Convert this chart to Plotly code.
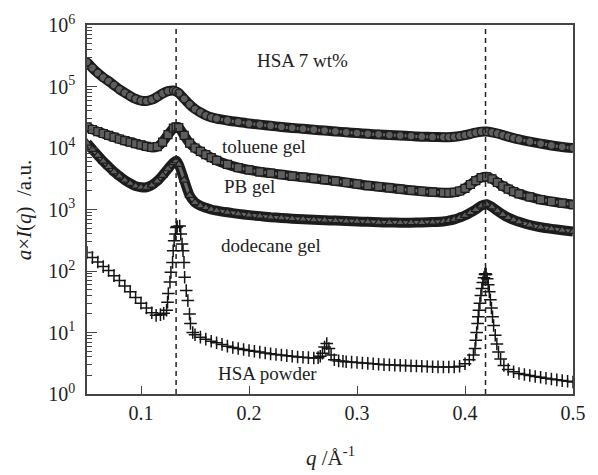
import plotly.graph_objects as go

# scattering vector grid shared by the three gel curves (1/Angstrom)
q_gel = [0.050, 0.055, 0.060, 0.065, 0.070, 0.075, 0.080, 0.085, 0.090, 0.095,
         0.100, 0.105, 0.110, 0.115, 0.120, 0.125, 0.130, 0.1325, 0.135, 0.140,
         0.145, 0.150, 0.155, 0.160, 0.165, 0.170, 0.180, 0.190, 0.200, 0.210,
         0.220, 0.230, 0.240, 0.250, 0.260, 0.270, 0.280, 0.290, 0.300, 0.310,
         0.320, 0.330, 0.340, 0.350, 0.360, 0.370, 0.380, 0.385, 0.390, 0.395,
         0.400, 0.405, 0.410, 0.415, 0.420, 0.425, 0.430, 0.435, 0.440, 0.445,
         0.450, 0.460, 0.470, 0.480, 0.490, 0.500]

toluene_gel = [2.5e5, 2.0e5, 1.65e5, 1.4e5, 1.22e5, 1.05e5, 9.0e4, 7.9e4, 7.0e4, 6.3e4,
               5.9e4, 5.8e4, 6.1e4, 6.8e4, 7.7e4, 8.4e4, 8.6e4, 8.3e4, 7.8e4, 6.3e4,
               5.1e4, 4.3e4, 3.8e4, 3.4e4, 3.15e4, 3.0e4, 2.8e4, 2.65e4, 2.5e4, 2.4e4,
               2.3e4, 2.2e4, 2.12e4, 2.05e4, 1.98e4, 1.92e4, 1.86e4, 1.8e4, 1.75e4, 1.7e4,
               1.66e4, 1.62e4, 1.59e4, 1.56e4, 1.53e4, 1.51e4, 1.5e4, 1.5e4, 1.52e4, 1.56e4,
               1.62e4, 1.7e4, 1.78e4, 1.84e4, 1.85e4, 1.8e4, 1.72e4, 1.62e4, 1.53e4, 1.45e4,
               1.38e4, 1.27e4, 1.18e4, 1.1e4, 1.04e4, 1.0e4]

pb_gel = [2.2e4, 2.0e4, 1.85e4, 1.72e4, 1.6e4, 1.5e4, 1.4e4, 1.32e4, 1.25e4, 1.18e4,
          1.12e4, 1.06e4, 1.02e4, 1.05e4, 1.25e4, 1.65e4, 2.1e4, 2.2e4, 2.15e4, 1.6e4,
          1.2e4, 1.0e4, 8.8e3, 7.8e3, 7.0e3, 6.3e3, 5.4e3, 4.8e3, 4.4e3, 4.1e3,
          3.9e3, 3.7e3, 3.5e3, 3.35e3, 3.2e3, 3.05e3, 2.9e3, 2.75e3, 2.6e3, 2.45e3,
          2.35e3, 2.25e3, 2.15e3, 2.05e3, 1.98e3, 1.92e3, 1.88e3, 1.87e3, 1.9e3, 2.0e3,
          2.2e3, 2.55e3, 2.95e3, 3.3e3, 3.4e3, 3.15e3, 2.75e3, 2.4e3, 2.15e3, 1.95e3,
          1.8e3, 1.6e3, 1.45e3, 1.35e3, 1.27e3, 1.2e3]

dodecane_gel = [1.2e4, 9.5e3, 7.6e3, 6.1e3, 5.0e3, 4.1e3, 3.5e3, 3.0e3, 2.65e3, 2.4e3,
                2.3e3, 2.3e3, 2.5e3, 2.9e3, 3.6e3, 4.6e3, 5.8e3, 6.2e3, 5.4e3, 3.0e3,
                1.7e3, 1.3e3, 1.15e3, 1.07e3, 1.0e3, 960, 900, 850, 810, 780,
                750, 730, 710, 695, 680, 670, 660, 650, 640, 630,
                620, 615, 610, 610, 615, 625, 640, 660, 690, 740,
                800, 890, 1.0e3, 1.15e3, 1.22e3, 1.1e3, 950, 830, 740, 680,
                630, 560, 515, 485, 460, 440]

# dry powder, sampled more finely through the Bragg peaks
q_powder = [0.050, 0.055, 0.060, 0.065, 0.070, 0.075, 0.080, 0.085, 0.090, 0.095,
            0.100, 0.105, 0.110, 0.114, 0.118, 0.121, 0.1237, 0.1246, 0.1253, 0.1268,
            0.1277, 0.1292, 0.1298, 0.1307, 0.1319, 0.1328, 0.1335, 0.1358, 0.1368, 0.1380,
            0.1389, 0.1398, 0.1404, 0.1419, 0.1434, 0.1449, 0.1458, 0.1479, 0.150, 0.155,
            0.160, 0.165, 0.170, 0.175, 0.180, 0.185, 0.190, 0.195, 0.200, 0.205,
            0.210, 0.215, 0.220, 0.225, 0.230, 0.235, 0.240, 0.245, 0.250, 0.255,
            0.260, 0.264, 0.266, 0.268, 0.270, 0.272, 0.274, 0.276, 0.279, 0.283,
            0.287, 0.290, 0.295, 0.300, 0.305, 0.310, 0.315, 0.320, 0.325, 0.330,
            0.335, 0.340, 0.345, 0.350, 0.355, 0.360, 0.365, 0.370, 0.375, 0.380,
            0.385, 0.390, 0.395, 0.400, 0.404, 0.4078, 0.4093, 0.4100, 0.4108, 0.4117,
            0.4123, 0.4129, 0.4138, 0.4147, 0.4156, 0.4165, 0.4175, 0.4185, 0.4190, 0.4195,
            0.4205, 0.4215, 0.4225, 0.4235, 0.4245, 0.4255, 0.4265, 0.4280, 0.4295, 0.4310,
            0.4330, 0.4360, 0.440, 0.445, 0.450, 0.455, 0.460, 0.465, 0.470, 0.475,
            0.480, 0.485, 0.490, 0.495, 0.500]

hsa_powder = [200, 165, 140, 118, 102, 84, 70, 57, 46, 37,
              30, 25, 21, 19, 19.5, 20.5, 23, 31, 43, 66,
              95, 138, 214, 310, 400, 510, 530, 540, 400, 274,
              214, 138, 79, 48, 33, 20, 14, 10, 9.2, 8.4,
              7.8, 7.2, 6.8, 6.4, 6.0, 5.7, 5.5, 5.3, 5.1, 4.95,
              4.8, 4.65, 4.5, 4.4, 4.3, 4.2, 4.1, 4.0, 3.95, 3.9,
              3.85, 3.9, 4.1, 4.6, 5.8, 6.6, 5.5, 4.3, 3.6, 3.45,
              3.4, 3.35, 3.3, 3.25, 3.2, 3.15, 3.1, 3.05, 3.0, 2.98,
              2.95, 2.92, 2.9, 2.87, 2.85, 2.82, 2.8, 2.78, 2.76, 2.75,
              2.75, 2.76, 2.82, 3.1, 3.6, 4.3, 5.5, 7.5, 10, 14,
              18, 23, 30, 40, 52, 65, 78, 88, 90, 88,
              75, 60, 46, 34, 25, 18, 13, 9, 6.5, 4.8,
              3.7, 2.9, 2.5, 2.3, 2.15, 2.07, 2.0, 1.93, 1.87, 1.8,
              1.75, 1.7, 1.65, 1.61, 1.57]

peak_positions = [0.1325, 0.419]

labels = ["toluene gel", "PB gel", "dodecane gel", "HSA powder"]
label_q = [0.173, 0.175, 0.172, 0.169]
label_logI = [4.03, 3.37, 2.41, 0.34]

y_decades = [0, 1, 2, 3, 4, 5, 6]
x_ticks = [0.1, 0.2, 0.3, 0.4, 0.5]

SERIF = "Liberation Serif, Times New Roman, serif"
INK = "#1e1e1e"

fig = go.Figure()

gel_series = [
    (toluene_gel, "circle"),
    (pb_gel, "square"),
    (dodecane_gel, "triangle-up"),
]
for values, symbol in gel_series:
    # dark smoothed band under the densely packed markers
    fig.add_trace(go.Scatter(
        x=q_gel, y=values, mode="lines",
        line=dict(color="#1c1c1c", width=10, shape="spline", smoothing=0.6),
        showlegend=False, hoverinfo="skip",
    ))
    fig.add_trace(go.Scatter(
        x=q_gel, y=values, mode="lines+markers",
        line=dict(color="#6a6a6a", width=3, shape="spline", smoothing=0.6),
        marker=dict(symbol=symbol, size=8, color="#5e5e5e",
                    line=dict(color="#1c1c1c", width=1.2)),
        showlegend=False, hoverinfo="skip",
    ))

fig.add_trace(go.Scatter(
    x=q_powder, y=hsa_powder, mode="markers",
    marker=dict(symbol="cross-thin", size=9,
                line=dict(color="#151515", width=1.5)),
    showlegend=False, hoverinfo="skip",
))

# dashed guides at the two peak positions
for qp in peak_positions:
    fig.add_shape(type="line", x0=qp, x1=qp, y0=0, y1=1,
                  xref="x", yref="paper",
                  line=dict(color="#222222", width=1.5, dash="5px,4px"))

for text, xq, ly in zip(labels, label_q, label_logI):
    fig.add_annotation(x=xq, y=ly, text=text, showarrow=False,
                       xanchor="left", yanchor="middle",
                       font=dict(family=SERIF, size=19, color=INK))

fig.add_annotation(x=0.206, y=5.42, text="HSA 7 wt%", showarrow=False,
                   xanchor="left", yanchor="middle",
                   font=dict(family=SERIF, size=19, color=INK))

# axis titles
fig.add_annotation(xref="paper", yref="paper", x=-0.13, y=0.5,
                   text="<i>a</i>×<i>I</i>(<i>q</i>)\u00a0\u00a0/a.u.",
                   textangle=-90, showarrow=False,
                   xanchor="center", yanchor="middle",
                   font=dict(family=SERIF, size=21, color=INK))
fig.add_annotation(xref="paper", yref="paper", x=0.5, y=-0.17,
                   text="<i>q</i> /Å<sup>-1</sup>", showarrow=False,
                   xanchor="center", yanchor="middle",
                   font=dict(family=SERIF, size=21, color=INK))

fig.update_xaxes(
    range=[0.05, 0.5], tickvals=x_ticks, ticktext=[f"{v:.1f}" for v in x_ticks],
    ticks="inside", ticklen=8, tickwidth=1.3, tickcolor="#444",
    showline=True, linecolor="#444", linewidth=1.6, mirror=True,
    showgrid=False, zeroline=False,
    tickfont=dict(family=SERIF, size=20, color=INK),
)
fig.update_yaxes(
    type="log", range=[0, 6],
    tickvals=[10 ** d for d in y_decades],
    ticktext=[f"10<sup>{d}</sup>" for d in y_decades],
    ticks="inside", ticklen=10, tickwidth=1.3, tickcolor="#444",
    minor=dict(ticks="inside", ticklen=5, tickwidth=1, tickcolor="#444",
               dtick="D1", showgrid=False),
    showline=True, linecolor="#444", linewidth=1.6, mirror=True,
    showgrid=False, zeroline=False, ticklabelstandoff=6,
    tickfont=dict(family=SERIF, size=20, color=INK),
)

fig.update_layout(
    width=598, height=475,
    margin=dict(l=87, r=15, t=23, b=81),
    paper_bgcolor="white", plot_bgcolor="white",
)

fig.write_html("out.html")
